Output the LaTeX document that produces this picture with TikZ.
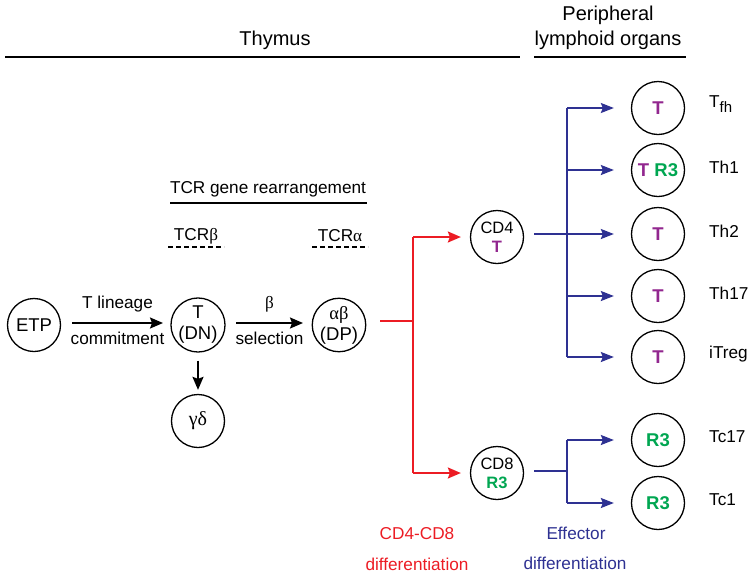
\documentclass[tikz,border=0pt]{standalone}
\usepackage{fontspec}
\setmainfont{Liberation Sans}
\newfontfamily\grk{Liberation Serif}
\usetikzlibrary{arrows.meta}
\definecolor{cred}{RGB}{236,28,36}
\definecolor{cblue}{RGB}{46,49,146}
\definecolor{cmag}{RGB}{146,39,143}
\definecolor{cgreen}{RGB}{0,166,81}
\newcommand{\tm}{\textcolor{cmag}{\textbf{T}}}
\newcommand{\rt}{\textcolor{cgreen}{\textbf{R3}}}
\tikzset{
  cell/.style={circle,draw,line width=1.3pt,minimum size=53pt,inner sep=0pt,align=center,
    font=\fontsize{18.5}{21}\selectfont},
  lbl/.style={font=\fontsize{17.2}{20}\selectfont,inner sep=0pt},
  hdr/.style={font=\fontsize{20}{24}\selectfont,inner sep=0pt},
  rule/.style={line width=1.8pt},
  blkarrow/.style={line width=1.8pt,-{Stealth[length=13pt,width=11pt,inset=2pt]}},
  redl/.style={cred,line width=1.8pt},
  redarrow/.style={cred,line width=1.8pt,-{Stealth[length=13pt,width=11pt,inset=2pt]}},
  bluel/.style={cblue,line width=1.8pt},
  bluearrow/.style={cblue,line width=1.8pt,-{Stealth[length=13pt,width=10pt,inset=2pt]}},
}
\begin{document}
\begin{tikzpicture}[x=1pt,y=-1pt]
\useasboundingbox (0,0) rectangle (750,574);
% headers
\node[hdr] (thy) at (275,40) {Thymus};
\node[hdr] (per1) at (608,15) {Peripheral};
\node[hdr] (per2) at (608,40) {lymphoid organs};
\coordinate (t1) at (5,57); \coordinate (t2) at (520,57);
\coordinate (p1) at (534,57); \coordinate (p2) at (686,57);
\draw[rule] (t1) -- (t2);
\draw[rule] (p1) -- (p2);
% TCR
\node[lbl] (tcr) at (268,189) {TCR gene rearrangement};
\coordinate (u1) at (170,203); \coordinate (u2) at (367,203);
\draw[rule] (u1) -- (u2);
\node[lbl] (tb) at (196,236) {TCR{\grk β}};
\node[lbl] (ta) at (340,236) {TCR{\grk α}};
\coordinate (d1) at (168,247); \coordinate (d2) at (224,247);
\coordinate (d3) at (312,247); \coordinate (d4) at (368,247);
\draw[rule,dash pattern=on 5pt off 3pt] (d1) -- (d2);
\draw[rule,dash pattern=on 5pt off 3pt] (d3) -- (d4);
% thymic cells
\node[cell] (etp) at (34,325) {ETP};
\node[cell] (dn) at (198,325) {T\\(DN)};
\node[cell] (dp) at (339,325) {{\grk αβ}\\(DP)};
\node[cell,font=\fontsize{20}{22}\selectfont] (gd) at (198,421) {\grk γδ};
\coordinate (a1) at (72,323); \coordinate (a2) at (163,323);
\coordinate (a3) at (236,323); \coordinate (a4) at (303,323);
\draw[blkarrow] (a1) -- (a2)
  node[lbl,midway,above=10pt] (tl) {T lineage}
  node[lbl,midway,below=8pt] (cm) {commitment};
\draw[blkarrow] (a3) -- (a4)
  node[lbl,midway,above=10pt] (bb) {\grk β}
  node[lbl,midway,below=8pt] (sel) {selection};
\draw[blkarrow,shorten <=8pt,shorten >=4pt] (dn.south) -- (gd.north);
% CD4/CD8
\node[cell,font=\fontsize{16.5}{19}\selectfont] (cd4) at (497,237) {CD4\\\tm};
\node[cell,font=\fontsize{16.5}{19}\selectfont] (cd8) at (497,473) {CD8\\\rt};
\coordinate (rs) at (380,321);
\coordinate (rj) at (413,321);
\draw[redl] (rs) -- (rj);
\draw[redl] (rj |- cd4) -- (rj |- cd8);
\draw[redarrow,shorten >=9pt] (rj |- cd4) -- (cd4.west);
\draw[redarrow,shorten >=9pt] (rj |- cd8) -- (cd8.west);
% peripheral cells
\node[cell] (c1) at (658,108) {\tm};
\node[cell] (c2) at (658,170) {\tm\ \rt};
\node[cell] (c3) at (658,234) {\tm};
\node[cell] (c4) at (658,296) {\tm};
\node[cell] (c5) at (658,357) {\tm};
\node[cell] (c6) at (658,440) {\rt};
\node[cell] (c7) at (658,503) {\rt};
\node[lbl,anchor=west] (l1) at (709,104) {T\raisebox{-0.5ex}{\fontsize{15}{15}\selectfont fh}};
\node[lbl,anchor=west] (l2) at (709,167) {Th1};
\node[lbl,anchor=west] (l3) at (709,231) {Th2};
\node[lbl,anchor=west] (l4) at (709,293) {Th17};
\node[lbl,anchor=west] (l5) at (709,354) {iTreg};
\node[lbl,anchor=west] (l6) at (709,437) {Tc17};
\node[lbl,anchor=west] (l7) at (709,500) {Tc1};
% blue connectors
\coordinate (bj) at (567,234);
\coordinate (bj2) at (567,471);
\coordinate (b4) at (534,234);
\coordinate (b8) at (534,471);
\draw[bluel] (b4) -- (bj);
\draw[bluel] (bj |- c1) -- (bj |- c5);
\foreach \c in {c1,c2,c3,c4,c5}{
  \draw[bluearrow,shorten >=17pt] (bj |- \c) -- (\c.west);
}
\draw[bluel] (b8) -- (bj2);
\draw[bluel] (bj2 |- c6) -- (bj2 |- c7);
\draw[bluearrow,shorten >=17pt] (bj2 |- c6) -- (c6.west);
\draw[bluearrow,shorten >=17pt] (bj2 |- c7) -- (c7.west);
% bottom labels
\node[lbl,text=cred] (rd1) at (417,534) {CD4-CD8};
\node[lbl,text=cred] (rd2) at (417,564) {differentiation};
\node[lbl,text=cblue] (bd1) at (576,533) {Effector};
\node[lbl,text=cblue] (bd2) at (575,563) {differentiation};
\end{tikzpicture}
\end{document}
